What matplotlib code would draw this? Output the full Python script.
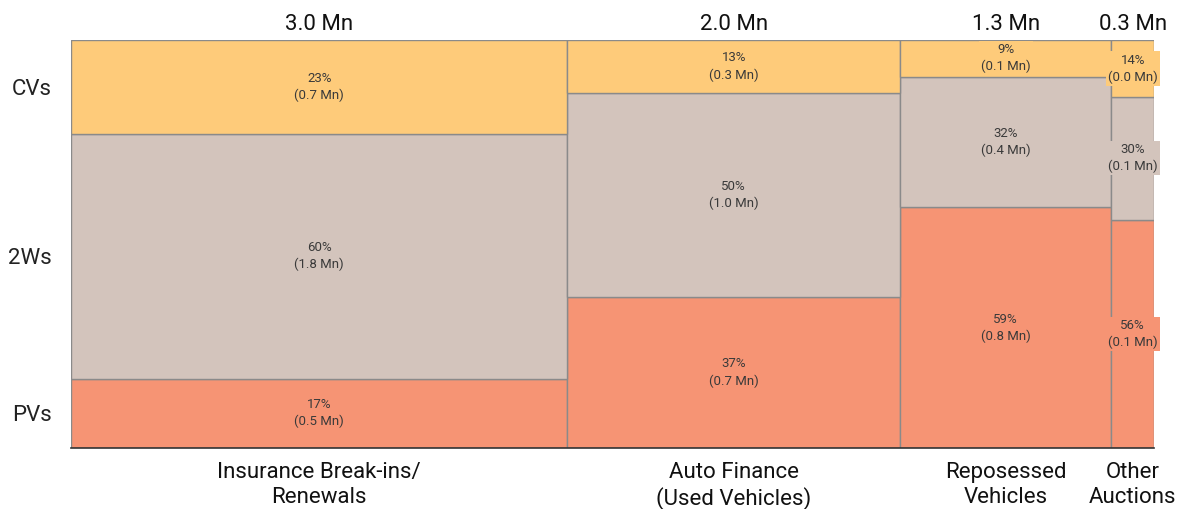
import matplotlib.pyplot as plt
import numpy as np

plt.rcParams['font.family'] = ['Roboto', 'DejaVu Sans']

# market size per use case (Mn vehicles)
categories = ['Insurance Break-ins/\nRenewals', 'Auto Finance\n(Used Vehicles)',
              'Reposessed\nVehicles', 'Other\nAuctions']
sizes = [3.03, 2.03, 1.29, 0.26]

# share of each vehicle type within a use case (%)
segments = ['PVs', '2Ws', 'CVs']
pv_pct = [17, 37, 59, 56]
tw_pct = [60, 50, 32, 30]
cv_pct = [23, 13, 9, 14]

# volume labels (Mn)
pv_mn = [0.5, 0.7, 0.8, 0.1]
tw_mn = [1.8, 1.0, 0.4, 0.1]
cv_mn = [0.7, 0.3, 0.1, 0.0]

colors = ['#f69474', '#d3c4bc', '#fecb7a']


def draw_pic():
    fig = plt.figure(figsize=(11.86, 5.09), dpi=100)
    ax = fig.add_axes([71 / 1186, 61 / 509, 1083 / 1186, 408 / 509])
    total = sum(sizes)
    lefts = np.concatenate([[0], np.cumsum(sizes)[:-1]]) / total
    widths = np.array(sizes) / total
    bottom = np.zeros(len(sizes))
    pcts = [pv_pct, tw_pct, cv_pct]
    mns = [pv_mn, tw_mn, cv_mn]
    for k in range(3):
        h = np.array(pcts[k]) / 100.0
        ax.bar(lefts, h, width=widths, bottom=bottom, align='edge',
               color=colors[k], edgecolor='#8a8a8a', linewidth=1)
        for i in range(len(sizes)):
            ax.text(lefts[i] + widths[i] / 2, bottom[i] + h[i] / 2,
                    '%d%%\n(%.1f Mn)' % (pcts[k][i], mns[k][i]),
                    ha='center', va='center', fontsize=9.5, color='#3a3a3a',
                    linespacing=1.35,
                    bbox=dict(facecolor=colors[k], edgecolor='none', pad=1.5))
        bottom = bottom + h

    for i in range(len(sizes)):
        cx = lefts[i] + widths[i] / 2
        ax.text(cx, 1.012, '%.1f Mn' % sizes[i], ha='center', va='bottom',
                fontsize=16, color='#111111')
        ax.text(cx, -0.034, categories[i], ha='center', va='top',
                fontsize=16, color='#111111', linespacing=1.25)

    # y labels centred on the first column's segments
    ycent = []
    b = 0
    for k in range(3):
        h = pcts[k][0] / 100.0
        ycent.append(b + h / 2)
        b += h
    ax.set_yticks(ycent)
    ax.set_yticklabels(segments, fontsize=16, color='#222222')
    ax.tick_params(axis='y', length=0, pad=14)
    ax.set_xticks([])
    ax.set_xlim(0, 1)
    ax.set_ylim(0, 1)
    for s in ['top', 'right', 'left']:
        ax.spines[s].set_visible(False)
    ax.spines['bottom'].set_color('#333333')
    ax.spines['bottom'].set_linewidth(1.2)
    fig.savefig('out.png', dpi=100)


if __name__ == "__main__":
    draw_pic()
